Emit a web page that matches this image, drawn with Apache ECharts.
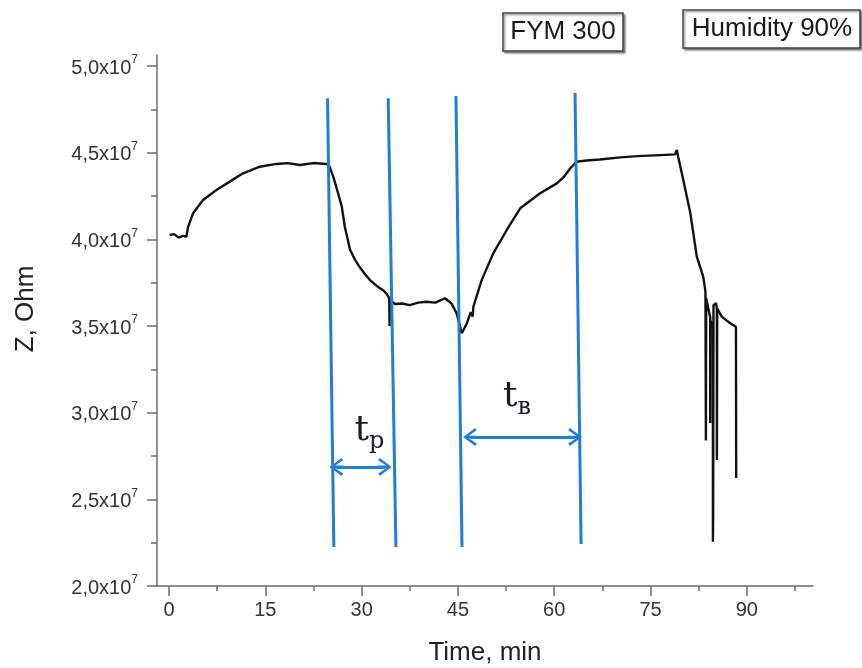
<!DOCTYPE html>
<html>
<head>
<meta charset="utf-8">
<script src="https://cdn.jsdelivr.net/npm/echarts@6/dist/echarts.min.js"></script>
<style>
html,body{margin:0;padding:0;background:#fff}
#main{width:862px;height:668px}
</style>
</head>
<body>
<div id="main"></div>
<script>
/* Z(t) curve, time in min, impedance in units of 10^7 Ohm */
var timeMin = [0.1, 0.8, 1.5, 2.2, 2.7, 2.96, 3.74, 5.3, 7.39, 9.46, 11.54, 14.14, 16.74, 18.5, 20.4, 22.5, 24.5,
  24.9, 25.6, 26.3, 26.9, 27.4, 28.2, 29.0, 29.7, 30.5, 31.3, 32.4, 33.4, 34.0, 34.3, 34.35, 34.4,
  35.2, 36.3, 37.5, 38.8, 40.1, 41.5, 42.98, 44.0, 44.8, 45.6, 46.4, 47.0, 47.3, 47.4,
  48.7, 50.5, 52.6, 54.7, 57.8, 60.4, 61.5, 62.5, 63.5, 65.0, 67.1, 70.3, 73.0, 76.5, 78.8, 79.1, 79.3,
  80.1, 81.2, 82.2, 83.2, 83.55, 83.62, 83.62, 83.66, 84.0, 84.29, 84.29, 84.33, 84.71, 84.71, 84.75, 84.8,
  85.2, 85.33, 85.33, 85.38, 86.1, 87.4, 88.3, 88.34];
var impedance = [4.025, 4.03, 4.01, 4.02, 4.015, 4.07, 4.15, 4.227, 4.285, 4.333, 4.381, 4.419, 4.435, 4.44, 4.429, 4.44, 4.435,
  4.43, 4.36, 4.27, 4.19, 4.07, 3.94, 3.88, 3.84, 3.80, 3.765, 3.73, 3.705, 3.68, 3.66, 3.50, 3.65,
  3.627, 3.63, 3.62, 3.635, 3.64, 3.635, 3.66, 3.63, 3.573, 3.458, 3.516, 3.58, 3.554, 3.611,
  3.765, 3.919, 4.054, 4.179, 4.266, 4.323, 4.36, 4.41, 4.448, 4.455, 4.461, 4.473, 4.48, 4.486, 4.49, 4.515, 4.477,
  4.342, 4.15, 3.90, 3.785, 3.70, 3.689, 2.84, 3.66, 3.60, 3.55, 2.94, 3.53, 3.50, 2.256, 2.40, 3.62,
  3.631, 3.60, 2.727, 3.60, 3.554, 3.516, 3.496, 2.623];

var xTicks = [0, 15, 30, 45, 60, 75, 90];
var xMinor = [7.5, 22.5, 37.5, 52.5, 67.5, 82.5, 97.5];
var yTicks = [2.0, 2.5, 3.0, 3.5, 4.0, 4.5, 5.0];
var yMinor = [2.25, 2.75, 3.25, 3.75, 4.25, 4.75];

/* blue guide lines: [top, bottom] */
var guideLines = [
  [[24.69, 4.814], [25.67, 2.225]],
  [[34.14, 4.814], [35.34, 2.225]],
  [[44.69, 4.827], [45.63, 2.225]],
  [[63.24, 4.844], [64.18, 2.242]]
];
/* double arrows */
var tpArrow = [[26.1, 2.687], [33.6, 2.687]];
var tbArrow = [[46.9, 2.86], [63.2, 2.86]];
var tpLabel = [31.2, 2.88];
var tbLabel = [54.2, 3.08];

var sans = 'Liberation Sans, Arial, sans-serif';
var serif = 'DejaVu Serif, Liberation Serif, serif';
var axisGray = '#6b6b6b';
var blue = '#1f7fd6';
var chevron = 'path://M0,12 L9,0 L18,12 L15.6,13.6 L10.3,5.6 L10.3,14 L7.7,14 L7.7,5.6 L2.4,13.6 Z';

var curve = timeMin.map(function (t, i) { return [t, impedance[i]]; });

var lineData = guideLines.map(function (l) {
  return [{coord: l[0], symbol: 'none'}, {coord: l[1], symbol: 'none'}];
});
[tpArrow, tbArrow].forEach(function (a) {
  lineData.push([{coord: a[0], symbol: chevron}, {coord: a[1], symbol: chevron}]);
});

function subLabel(sub) {
  return {
    show: true,
    formatter: '{t|t}{s|' + sub + '}',
    rich: {
      t: {fontSize: 36, fontFamily: serif, color: '#1a1a2a', padding: [0, 0, 5, 0]},
      s: {fontSize: 24, fontFamily: serif, color: '#1a1a2a', verticalAlign: 'bottom'}
    }
  };
}

var chart = echarts.init(document.getElementById('main'));
chart.setOption({
  animation: false,
  grid: {left: 157, right: 49, top: 55, bottom: 82, containLabel: false, outerBoundsMode: 'none'},
  xAxis: [{
    type: 'value', min: -1.87, max: 100.3,
    axisLine: {show: true, onZero: false, lineStyle: {color: axisGray, width: 1.5}},
    axisTick: {show: true, length: 10, customValues: xTicks, lineStyle: {color: axisGray, width: 1.5}},
    axisLabel: {customValues: xTicks, margin: 14, fontSize: 20, color: '#333', fontFamily: sans},
    splitLine: {show: false},
    name: 'Time, min', nameLocation: 'middle', nameGap: 54,
    nameTextStyle: {fontSize: 26, color: '#222', fontFamily: sans}
  }, {
    type: 'value', min: -1.87, max: 100.3, position: 'bottom',
    axisLine: {show: false, onZero: false},
    axisTick: {show: true, length: 5, customValues: xMinor, lineStyle: {color: axisGray, width: 1.5}},
    axisLabel: {show: false},
    splitLine: {show: false}
  }],
  yAxis: [{
    type: 'value', min: 2.0, max: 5.0635,
    axisLine: {show: true, onZero: false, lineStyle: {color: axisGray, width: 1.5}},
    axisTick: {show: true, length: 10, customValues: yTicks, lineStyle: {color: axisGray, width: 1.5}},
    axisLabel: {
      customValues: yTicks, margin: 19,
      formatter: function (v) { return '{a|' + v.toFixed(1).replace('.', ',') + 'x10}{e|7}'; },
      rich: {
        a: {fontSize: 20, color: '#333', fontFamily: sans, verticalAlign: 'bottom', lineHeight: 24},
        e: {fontSize: 12, color: '#333', fontFamily: sans, verticalAlign: 'top', lineHeight: 24}
      }
    },
    splitLine: {show: false},
    name: 'Z, Ohm', nameLocation: 'middle', nameGap: 118,
    nameTextStyle: {fontSize: 26, color: '#222', fontFamily: sans, padding: [0, 0, 0, 23]}
  }, {
    type: 'value', min: 2.0, max: 5.0635, position: 'left',
    axisLine: {show: false, onZero: false},
    axisTick: {show: true, length: 6, customValues: yMinor, lineStyle: {color: axisGray, width: 1.5}},
    axisLabel: {show: false},
    splitLine: {show: false}
  }],
  series: [{
    type: 'line',
    data: [],
    z: 1,
    markLine: {
      silent: true,
      animation: false,
      label: {show: false},
      lineStyle: {color: blue, width: 3, type: 'solid'},
      symbolSize: [18, 14],
      data: lineData
    },
    markPoint: {
      silent: true,
      symbol: 'rect',
      symbolSize: 0,
      data: [
        {coord: tpLabel, label: subLabel('р')},
        {coord: tbLabel, label: subLabel('в')}
      ]
    }
  }, {
    type: 'line',
    data: curve,
    z: 3,
    showSymbol: false,
    silent: true,
    lineStyle: {color: '#111', width: 2.4}
  }],
  graphic: [
    {type: 'rect', shape: {x: 503, y: 13, width: 120, height: 38},
      style: {fill: '#fff', stroke: '#444', lineWidth: 1.5, shadowBlur: 2, shadowOffsetX: 1.5, shadowOffsetY: 1.5, shadowColor: 'rgba(0,0,0,0.45)'}},
    {type: 'text', x: 563, y: 32, style: {text: 'FYM 300', fontSize: 26, fontFamily: sans, fill: '#1a1a1a', align: 'center', verticalAlign: 'middle'}},
    {type: 'rect', shape: {x: 683, y: 10, width: 177, height: 38},
      style: {fill: '#fff', stroke: '#444', lineWidth: 1.5, shadowBlur: 2, shadowOffsetX: 1.5, shadowOffsetY: 1.5, shadowColor: 'rgba(0,0,0,0.45)'}},
    {type: 'text', x: 772, y: 29, style: {text: 'Humidity 90%', fontSize: 26, fontFamily: sans, fill: '#1a1a1a', align: 'center', verticalAlign: 'middle'}}
  ]
});
</script>
</body>
</html>
